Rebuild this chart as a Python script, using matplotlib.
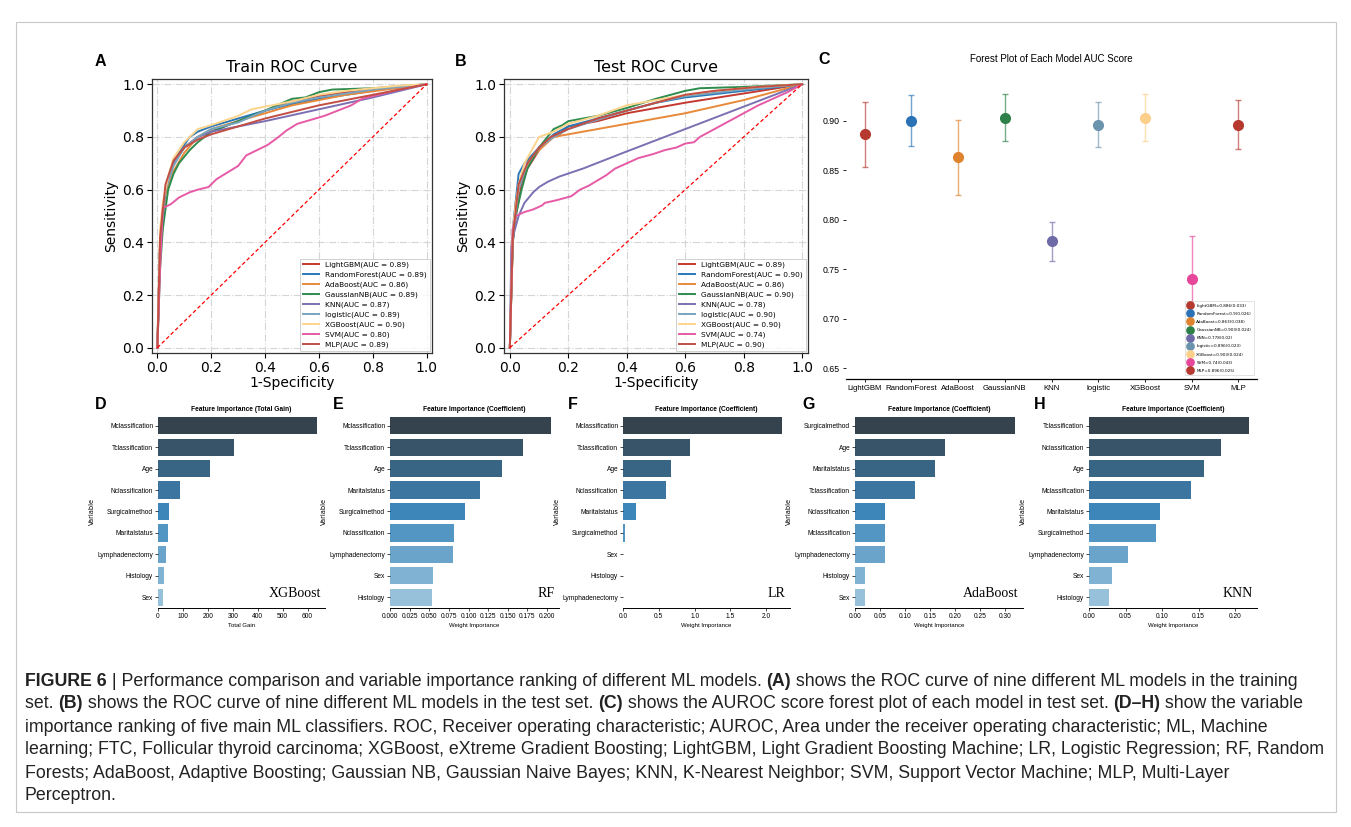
import numpy as np
import matplotlib
matplotlib.use("Agg")
import matplotlib.pyplot as plt
from matplotlib import font_manager
from matplotlib.colors import to_rgba
from matplotlib.patches import Rectangle
import seaborn as sns

W, H = 1351, 827

# ---- data ------------------------------------------------------------
models = ["LightGBM", "RandomForest", "AdaBoost", "GaussianNB", "KNN",
          "logistic", "XGBoost", "SVM", "MLP"]
roc_colors = ["#c4392f", "#2a78b8", "#e8893a", "#2e8c4e", "#7a70b2",
              "#78a4bf", "#fdd48c", "#e65aa6", "#c24e44"]
train_auc = [0.89, 0.89, 0.86, 0.89, 0.87, 0.89, 0.90, 0.80, 0.89]
test_auc = [0.89, 0.90, 0.86, 0.90, 0.78, 0.90, 0.90, 0.74, 0.90]

# train ROC curves
tr_lgbm_x = [0, 0.01, 0.03, 0.06, 0.10, 0.15, 0.20, 0.30, 0.40, 0.50, 0.60, 0.70, 0.80, 1.0]
tr_lgbm_y = [0, 0.40, 0.60, 0.70, 0.76, 0.80, 0.82, 0.86, 0.90, 0.935, 0.955, 0.97, 0.98, 1.0]
tr_rf_x = [0, 0.01, 0.03, 0.05, 0.08, 0.12, 0.15, 0.20, 0.30, 0.40, 0.50, 0.60, 0.70, 0.80, 0.90, 1.0]
tr_rf_y = [0, 0.40, 0.60, 0.68, 0.74, 0.80, 0.82, 0.84, 0.87, 0.90, 0.925, 0.945, 0.96, 0.975, 0.99, 1.0]
tr_ada_x = [0, 0.01, 0.03, 0.06, 0.10, 0.15, 0.20, 0.30, 0.50, 0.70, 1.0]
tr_ada_y = [0, 0.35, 0.58, 0.67, 0.74, 0.80, 0.83, 0.86, 0.92, 0.96, 1.0]
tr_gnb_x = [0, 0.01, 0.02, 0.04, 0.06, 0.08, 0.12, 0.15, 0.20, 0.30, 0.40, 0.50, 0.55, 0.60, 0.65, 0.80, 1.0]
tr_gnb_y = [0, 0.30, 0.45, 0.60, 0.66, 0.70, 0.75, 0.78, 0.82, 0.86, 0.90, 0.945, 0.95, 0.97, 0.98, 0.985, 1.0]
tr_knn_x = [0, 0.01, 0.03, 0.06, 0.10, 0.15, 0.20, 0.40, 0.60, 0.80, 1.0]
tr_knn_y = [0, 0.40, 0.60, 0.70, 0.76, 0.80, 0.82, 0.86, 0.905, 0.95, 1.0]
tr_log_x = [0, 0.01, 0.03, 0.06, 0.10, 0.15, 0.20, 0.30, 0.40, 0.50, 0.60, 0.80, 1.0]
tr_log_y = [0, 0.40, 0.60, 0.69, 0.76, 0.80, 0.83, 0.855, 0.90, 0.93, 0.95, 0.98, 1.0]
tr_xgb_x = [0, 0.01, 0.02, 0.04, 0.06, 0.10, 0.15, 0.20, 0.30, 0.35, 0.40, 0.50, 0.60, 0.70, 0.80, 0.90, 1.0]
tr_xgb_y = [0, 0.45, 0.55, 0.65, 0.72, 0.78, 0.83, 0.845, 0.88, 0.905, 0.915, 0.935, 0.96, 0.975, 0.985, 0.995, 1.0]
tr_svm_x = [0, 0.01, 0.02, 0.05, 0.08, 0.12, 0.15, 0.19, 0.22, 0.26, 0.30, 0.33, 0.37, 0.41, 0.45,
            0.48, 0.52, 0.57, 0.62, 0.67, 0.72, 0.76, 0.82, 0.90, 1.0]
tr_svm_y = [0, 0.30, 0.53, 0.545, 0.57, 0.59, 0.60, 0.61, 0.64, 0.665, 0.69, 0.73, 0.75, 0.77, 0.80,
            0.825, 0.85, 0.865, 0.88, 0.90, 0.92, 0.945, 0.96, 0.98, 1.0]
tr_mlp_x = [0, 0.01, 0.03, 0.06, 0.10, 0.15, 0.20, 0.40, 0.60, 0.80, 1.0]
tr_mlp_y = [0, 0.42, 0.62, 0.71, 0.76, 0.79, 0.81, 0.87, 0.92, 0.96, 1.0]

# test ROC curves
te_lgbm_x = [0, 0.01, 0.02, 0.04, 0.06, 0.10, 0.13, 0.17, 0.20, 0.30, 0.40, 0.50, 0.60, 0.80, 1.0]
te_lgbm_y = [0, 0.40, 0.50, 0.62, 0.68, 0.75, 0.79, 0.81, 0.84, 0.86, 0.89, 0.91, 0.93, 0.965, 1.0]
te_rf_x = [0, 0.01, 0.03, 0.05, 0.10, 0.15, 0.20, 0.30, 0.40, 0.50, 0.60, 0.80, 1.0]
te_rf_y = [0, 0.45, 0.66, 0.70, 0.76, 0.81, 0.84, 0.87, 0.90, 0.93, 0.95, 0.975, 1.0]
te_ada_x = [0, 0.01, 0.02, 0.04, 0.07, 0.10, 0.15, 0.40, 0.60, 0.80, 1.0]
te_ada_y = [0, 0.40, 0.55, 0.65, 0.71, 0.75, 0.80, 0.85, 0.89, 0.94, 1.0]
te_gnb_x = [0, 0.01, 0.02, 0.04, 0.06, 0.10, 0.15, 0.18, 0.20, 0.30, 0.40, 0.50, 0.60, 0.65, 0.80, 1.0]
te_gnb_y = [0, 0.40, 0.50, 0.60, 0.68, 0.76, 0.83, 0.845, 0.86, 0.88, 0.91, 0.945, 0.975, 0.985, 0.99, 1.0]
te_knn_x = [0, 0.005, 0.015, 0.03, 0.05, 0.08, 0.10, 0.13, 0.17, 0.25, 0.40, 0.60, 0.80, 1.0]
te_knn_y = [0, 0.38, 0.44, 0.50, 0.55, 0.59, 0.61, 0.63, 0.65, 0.68, 0.745, 0.83, 0.915, 1.0]
te_log_x = [0, 0.01, 0.03, 0.06, 0.10, 0.15, 0.20, 0.30, 0.40, 0.50, 0.60, 0.80, 1.0]
te_log_y = [0, 0.42, 0.60, 0.70, 0.76, 0.80, 0.83, 0.865, 0.90, 0.93, 0.955, 0.98, 1.0]
te_xgb_x = [0, 0.01, 0.03, 0.05, 0.10, 0.15, 0.20, 0.30, 0.40, 0.50, 0.60, 0.70, 0.85, 1.0]
te_xgb_y = [0, 0.45, 0.62, 0.70, 0.80, 0.82, 0.85, 0.88, 0.92, 0.94, 0.96, 0.975, 0.99, 1.0]
te_svm_x = [0, 0.01, 0.02, 0.05, 0.08, 0.11, 0.12, 0.16, 0.21, 0.24, 0.27, 0.30, 0.33, 0.36, 0.40,
            0.44, 0.49, 0.53, 0.57, 0.60, 0.63, 0.65, 0.70, 0.75, 0.80, 0.85, 0.90, 0.95, 1.0]
te_svm_y = [0, 0.45, 0.50, 0.515, 0.525, 0.54, 0.55, 0.56, 0.575, 0.60, 0.615, 0.635, 0.655, 0.68, 0.70,
            0.72, 0.735, 0.75, 0.76, 0.775, 0.78, 0.80, 0.83, 0.86, 0.89, 0.92, 0.945, 0.97, 1.0]
te_mlp_x = [0, 0.01, 0.03, 0.06, 0.10, 0.14, 0.20, 0.30, 0.40, 0.50, 0.60, 0.70, 0.85, 1.0]
te_mlp_y = [0, 0.42, 0.62, 0.70, 0.76, 0.80, 0.83, 0.87, 0.90, 0.93, 0.96, 0.975, 0.99, 1.0]

# forest plot (test AUC with error)
auc_mean = [0.886, 0.9, 0.863, 0.903, 0.778, 0.896, 0.903, 0.74, 0.896]
auc_err = [0.033, 0.026, 0.038, 0.024, 0.02, 0.023, 0.024, 0.043, 0.025]
forest_colors = ["#b5392f", "#2a72b5", "#e0832e", "#2e8049", "#6e6aa8",
                 "#6a93ad", "#fcd08b", "#e7479a", "#b5392f"]

# feature importance panels
xgb_feats = ["Mclassification", "Tclassification", "Age", "Nclassification", "Surgicalmethod",
             "Maritalstatus", "Lymphadenectomy", "Histology", "Sex"]
xgb_vals = [638, 304, 209, 87, 44, 39, 33, 23, 21]
rf_feats = ["Mclassification", "Tclassification", "Age", "Maritalstatus", "Surgicalmethod",
            "Nclassification", "Lymphadenectomy", "Sex", "Histology"]
rf_vals = [0.205, 0.170, 0.143, 0.114, 0.096, 0.082, 0.080, 0.055, 0.054]
lr_feats = ["Mclassification", "Tclassification", "Age", "Nclassification", "Maritalstatus",
            "Surgicalmethod", "Sex", "Histology", "Lymphadenectomy"]
lr_vals = [2.22, 0.94, 0.674, 0.595, 0.181, 0.033, 0.0, 0.0, 0.0]
ada_feats = ["Surgicalmethod", "Age", "Maritalstatus", "Tclassification", "Nclassification",
             "Mclassification", "Lymphadenectomy", "Histology", "Sex"]
ada_vals = [0.32, 0.18, 0.16, 0.12, 0.06, 0.06, 0.06, 0.02, 0.02]
knn_feats = ["Tclassification", "Nclassification", "Age", "Mclassification", "Maritalstatus",
             "Surgicalmethod", "Lymphadenectomy", "Sex", "Histology"]
knn_vals = [0.219, 0.180, 0.157, 0.140, 0.097, 0.092, 0.054, 0.031, 0.028]

# ---- fonts -------------------------------------------------------------
names = {f.name for f in font_manager.fontManager.ttflist}
narrow = "Liberation Sans Narrow" if "Liberation Sans Narrow" in names else "Liberation Sans"
plt.rcParams["font.family"] = "DejaVu Sans"

fig = plt.figure(figsize=(W / 100, H / 100), dpi=100)


def px_axes(l, t, r, b):
    return fig.add_axes([l / W, 1 - b / H, (r - l) / W, (b - t) / H])


def letter(x, y, s):
    fig.text(x / W, 1 - y / H, s, fontsize=11.5, fontweight="bold",
             family="Liberation Sans", va="center", ha="left")


# ---- ROC panels --------------------------------------------------------
def roc_panel(ax, curves, aucs, title):
    for (cx, cy), name, col, a in zip(curves, models, roc_colors, aucs):
        ax.plot(cx, cy, color=col, lw=1.4, label=f"{name}(AUC = {a:.2f})")
    ax.plot([0, 1], [0, 1], color="red", ls=(0, (3, 2)), lw=0.9)
    ax.set_xlim(-0.02, 1.02)
    ax.set_ylim(-0.02, 1.02)
    ax.set_xticks(np.arange(0, 1.01, 0.2))
    ax.set_yticks(np.arange(0, 1.01, 0.2))
    ax.grid(True, ls="-.", color="#d5d5d5", lw=0.8)
    ax.tick_params(labelsize=10, length=3.5, width=0.8, pad=2)
    ax.set_xlabel("1-Specificity", fontsize=10, labelpad=1)
    ax.set_ylabel("Sensitivity", fontsize=10, labelpad=3)
    ax.set_title(title, fontsize=11.5, pad=5)
    for s in ax.spines.values():
        s.set_color("#333333")
        s.set_linewidth(0.9)
    leg = ax.legend(loc="lower right", fontsize=5.3, frameon=True, fancybox=False,
                    borderaxespad=0.3, handlelength=2.2, labelspacing=0.45)
    leg.get_frame().set_edgecolor("#bbbbbb")
    leg.get_frame().set_linewidth(0.6)


axA = px_axes(152, 79, 432, 353)
roc_panel(axA, [(tr_lgbm_x, tr_lgbm_y), (tr_rf_x, tr_rf_y), (tr_ada_x, tr_ada_y),
                (tr_gnb_x, tr_gnb_y), (tr_knn_x, tr_knn_y), (tr_log_x, tr_log_y),
                (tr_xgb_x, tr_xgb_y), (tr_svm_x, tr_svm_y), (tr_mlp_x, tr_mlp_y)],
          train_auc, "Train ROC Curve")
axB = px_axes(504, 79, 808, 353)
roc_panel(axB, [(te_lgbm_x, te_lgbm_y), (te_rf_x, te_rf_y), (te_ada_x, te_ada_y),
                (te_gnb_x, te_gnb_y), (te_knn_x, te_knn_y), (te_log_x, te_log_y),
                (te_xgb_x, te_xgb_y), (te_svm_x, te_svm_y), (te_mlp_x, te_mlp_y)],
          test_auc, "Test ROC Curve")
letter(95, 61, "A")
letter(455, 61, "B")
letter(818, 60, "C")

# ---- forest plot -------------------------------------------------------
axC = px_axes(846, 75, 1257, 379)
for i, (m, e, col, name) in enumerate(zip(auc_mean, auc_err, forest_colors, models)):
    axC.errorbar(i, m, yerr=e, fmt="o", color=col, ecolor=to_rgba(col, 0.65),
                 elinewidth=1.0, capsize=2.2, capthick=1.0, markersize=7,
                 label=f"{name}={m}({e})")
axC.set_xlim(-0.4, 8.4)
axC.set_ylim(0.639, 0.946)
axC.set_yticks([0.65, 0.70, 0.75, 0.80, 0.85, 0.90])
axC.set_yticklabels([f"{v:.2f}" for v in [0.65, 0.70, 0.75, 0.80, 0.85, 0.90]],
                    family=narrow, fontsize=6.3)
axC.set_xticks(range(len(models)))
axC.set_xticklabels(models, family=narrow, fontsize=5.6)
axC.tick_params(length=2.5, width=0.6, pad=2)
for s in ["left", "top", "right"]:
    axC.spines[s].set_visible(False)
axC.spines["bottom"].set_linewidth(0.9)
axC.set_title("Forest Plot of Each Model AUC Score", family=narrow, fontsize=7.0, pad=9)
legC = axC.legend(loc="lower right", bbox_to_anchor=(0.997, 0.005), fontsize=3.0,
                  frameon=True, fancybox=False, markerscale=0.75, handlelength=1.3,
                  labelspacing=1.0, borderpad=0.6)
legC.get_frame().set_edgecolor("#cccccc")
legC.get_frame().set_linewidth(0.5)

# ---- feature importance panels -----------------------------------------
bar_cols = [sns.desaturate(c, 0.92) for c in sns.color_palette("Blues_d", 9)[::-1]]


def bar_panel(l, r, feats, vals, ticks, ticklabels, title, xlabel, tag):
    ax = px_axes(l, 415, r, 608)
    ax.barh(range(len(feats)), vals, height=0.8, color=bar_cols)
    ax.set_ylim(len(feats) - 0.5, -0.5)
    ax.set_xlim(0, max(vals) * 1.05)
    ax.set_yticks(range(len(feats)))
    ax.set_yticklabels(feats, family=narrow, fontsize=4.8)
    ax.set_xticks(ticks)
    ax.set_xticklabels(ticklabels, family=narrow, fontsize=4.8)
    ax.tick_params(length=2, width=0.5, pad=1.5)
    for s in ["left", "top", "right"]:
        ax.spines[s].set_visible(False)
    ax.spines["bottom"].set_linewidth(0.7)
    ax.set_title(title, family=narrow, fontweight="bold", fontsize=4.8, pad=3)
    ax.set_xlabel(xlabel, family=narrow, fontsize=4.3, labelpad=2)
    ax.set_ylabel("Variable", fontsize=4.8, labelpad=1.5)
    ax.text(0.975, 0.04, tag, transform=ax.transAxes, ha="right", va="bottom",
            family="Liberation Serif", fontsize=10)
    return ax


bar_panel(158, 325, xgb_feats, xgb_vals, [0, 100, 200, 300, 400, 500, 600],
          ["0", "100", "200", "300", "400", "500", "600"],
          "Feature Importance (Total Gain)", "Total Gain", "XGBoost")
t_rf = [0, 0.025, 0.05, 0.075, 0.1, 0.125, 0.15, 0.175, 0.2]
bar_panel(390, 559, rf_feats, rf_vals, t_rf, [f"{v:.3f}" for v in t_rf],
          "Feature Importance (Coefficient)", "Weight Importance", "RF")
t_lr = [0, 0.5, 1.0, 1.5, 2.0]
bar_panel(623, 790, lr_feats, lr_vals, t_lr, [f"{v:.1f}" for v in t_lr],
          "Feature Importance (Coefficient)", "Weight Importance", "LR")
t_ada = [0, 0.05, 0.1, 0.15, 0.2, 0.25, 0.3]
bar_panel(855, 1023, ada_feats, ada_vals, t_ada, [f"{v:.2f}" for v in t_ada],
          "Feature Importance (Coefficient)", "Weight Importance", "AdaBoost")
t_knn = [0, 0.05, 0.1, 0.15, 0.2]
bar_panel(1089, 1257, knn_feats, knn_vals, t_knn, [f"{v:.2f}" for v in t_knn],
          "Feature Importance (Coefficient)", "Weight Importance", "KNN")
letter(95, 404, "D")
letter(333, 404, "E")
letter(568, 404, "F")
letter(802, 404, "G")
letter(1034, 404, "H")

# ---- caption -----------------------------------------------------------
renderer = fig.canvas.get_renderer()
cap_size = 12.75


def part_width(s, weight):
    probe = fig.text(0, 0, "|" + s + "|", fontsize=cap_size, fontweight=weight, family="Liberation Sans")
    ref = fig.text(0, 0, "||", fontsize=cap_size, fontweight=weight, family="Liberation Sans")
    w = probe.get_window_extent(renderer).width - ref.get_window_extent(renderer).width
    probe.remove()
    ref.remove()
    return w


def rich_line(x, y, parts):
    for s, weight in parts:
        fig.text(x / W, 1 - y / H, s, fontsize=cap_size, fontweight=weight,
                 family="Liberation Sans", va="center", ha="left", color="#222222")
        x += part_width(s, weight)


N, B = "normal", "bold"
caption = [
    [("FIGURE 6", B), (" | Performance comparison and variable importance ranking of different ML models. ", N),
     ("(A)", B), (" shows the ROC curve of nine different ML models in the training", N)],
    [("set. ", N), ("(B)", B), (" shows the ROC curve of nine different ML models in the test set. ", N),
     ("(C)", B), (" shows the AUROC score forest plot of each model in test set. ", N),
     ("(D\u2013H)", B), (" show the variable", N)],
    [("importance ranking of five main ML classifiers. ROC, Receiver operating characteristic; AUROC, "
      "Area under the receiver operating characteristic; ML, Machine", N)],
    [("learning; FTC, Follicular thyroid carcinoma; XGBoost, eXtreme Gradient Boosting; LightGBM, "
      "Light Gradient Boosting Machine; LR, Logistic Regression; RF, Random", N)],
    [("Forests; AdaBoost, Adaptive Boosting; Gaussian NB, Gaussian Naive Bayes; KNN, K-Nearest Neighbor; "
      "SVM, Support Vector Machine; MLP, Multi-Layer", N)],
    [("Perceptron.", N)],
]
for k, parts in enumerate(caption):
    rich_line(25, 681 + 23 * k, parts)

fig.add_artist(Rectangle((16 / W, 1 - 812 / H), (1336 - 16) / W, (812 - 22) / H,
                         transform=fig.transFigure, fill=False, ec="#c8c8c8", lw=0.8))

fig.savefig("out.png", dpi=100)
